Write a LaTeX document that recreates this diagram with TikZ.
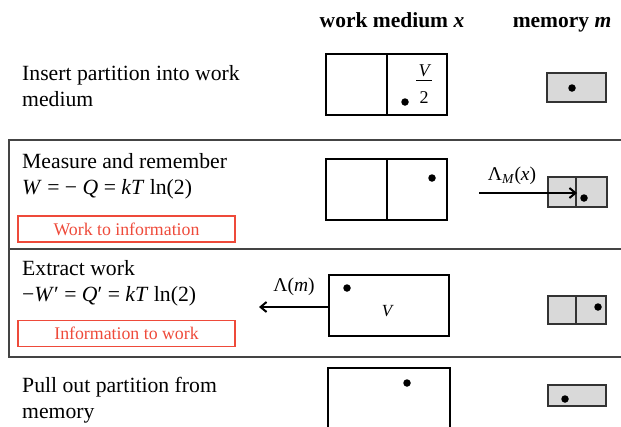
\documentclass[tikz,border=0pt]{standalone}
\usepackage{fontspec}
\setmainfont{Liberation Serif}
\usetikzlibrary{arrows.meta}
\definecolor{memgray}{HTML}{D9D9D9}
\definecolor{tagred}{HTML}{EE4A3A}
\definecolor{framegray}{HTML}{444444}
\tikzset{
  stepname/.style={anchor=west, align=left, inner sep=0pt,
    font=\fontsize{21.7}{26}\selectfont},
  header/.style={inner sep=0pt, anchor=base, font=\fontsize{21.5}{25}\selectfont\bfseries},
  wbox/.style={draw, line width=1.3pt},
  mbox/.style={draw=black!80, fill=memgray, line width=1.3pt},
  partition/.style={line width=2.8pt},
  particle/.style={circle, fill=black, inner sep=0pt, minimum size=7.5pt},
  tag/.style={draw=tagred, text=tagred, line width=1.1pt, inner sep=0pt,
    minimum width=217pt, minimum height=26pt,
    font=\fontsize{17.8}{20}\selectfont},
  rowframe/.style={draw=framegray, line width=1.7pt},
  opname/.style={inner sep=0pt, font=\fontsize{19.5}{22}\selectfont},
  flow/.style={line width=2pt, -{Straight Barb[length=6pt,width=10pt,line width=2pt]}},
}
\begin{document}
\begin{tikzpicture}[x=1pt,y=-1pt]
\useasboundingbox (0,0) rectangle (621,426);

% frames around the two middle steps
\draw[rowframe] (630,140) -- (9,140) -- (9,357) -- (630,357);
\draw[rowframe] (9,249) -- (630,249);

% column headings
\node[header] (hwork) at (392,27) {work medium \textit{x}};
\node[header] (hmem) at (562,27) {memory \textit{m}};

% step 1: insert partition
\node[stepname] (s1) at (22,86.5) {Insert partition into work\\medium};
\draw[wbox] (326,54) rectangle (447,115);
\draw[partition] (387,54) -- (387,115);
\node[particle] (p1) at (405,102) {};
\node[inner sep=0pt, font=\fontsize{18}{18}\selectfont\itshape] (v1) at (424,71) {V};
\draw[line width=0.8pt] (416,80.5) -- (432,80.5);
\node[inner sep=0pt, font=\fontsize{18}{18}\selectfont] (two1) at (424,98) {2};
\draw[mbox] (547,73) rectangle (606,102);
\node[particle] (m1) at (572,88) {};

% step 2: measure and remember
\node[stepname] (s2) at (22,176) {Measure and remember\\\textit{W} = − \textit{Q} = \textit{kT} ln(2)};
\node[tag] (t2) at (126.5,229) {Work to information};
\draw[wbox] (326,159) rectangle (447,220);
\draw[partition] (387,159) -- (387,220);
\node[particle] (p2) at (432,178) {};
\draw[mbox] (548,177) rectangle (607,207);
\draw[line width=1.3pt, black!80] (576,177) -- (576,207);
\node[particle] (m2) at (584,198) {};
\coordinate (a2) at (479,193);
\coordinate (b2) at (577,193);
\draw[flow] (a2) -- (b2);
\node[opname] (l2) at (512,176) {Λ\textsubscript{\textit{M}}(\textit{x})};

% step 3: extract work
\node[stepname] (s3) at (22,283) {Extract work\\−\textit{W}′ = \textit{Q}′ = \textit{kT} ln(2)};
\node[tag] (t3) at (126.5,333.5) {Information to work};
\draw[wbox] (329,275) rectangle (449,336);
\draw[partition] (329,275) -- (329,336);
\node[particle] (p3) at (347,288) {};
\node[inner sep=0pt, font=\fontsize{17}{17}\selectfont\itshape] (v3) at (387,311) {V};
\coordinate (a3) at (328,307);
\coordinate (b3) at (259,307);
\draw[flow] (a3) -- (b3);
\node[opname] (l3) at (294,287) {Λ(\textit{m})};
\draw[mbox] (548,296) rectangle (606,324);
\draw[line width=1.3pt, black!80] (576,296) -- (576,324);
\node[particle] (m3) at (598,307) {};

% step 4: pull out partition
\node[stepname] (s4) at (22,400) {Pull out partition from\\memory};
\draw[wbox] (328,440) -- (328,368) -- (450,368) -- (450,440);
\node[particle] (p4) at (407,383) {};
\draw[mbox] (548,385) rectangle (606,406);
\node[particle] (m4) at (565,399) {};
\end{tikzpicture}
\end{document}
